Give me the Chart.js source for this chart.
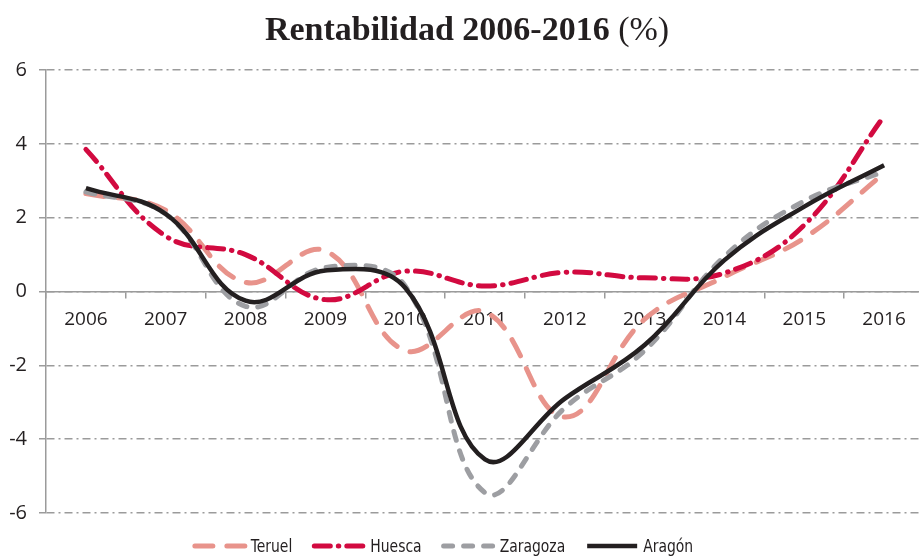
<!DOCTYPE html>
<html>
<head>
<meta charset="utf-8">
<script src="https://cdn.jsdelivr.net/npm/chart.js@4.4.1/dist/chart.umd.min.js"></script>
<style>
  html, body { margin: 0; padding: 0; background: #fff; overflow: hidden; }
  #caja { position: relative; width: 924px; height: 556px; }
  #titulo {
    position: absolute; left: 0; top: 10px; width: 934px; text-align: center;
    font-family: "Liberation Serif", "DejaVu Serif", serif; font-size: 34px; color: #231f20;
  }
  #titulo b { font-weight: bold; }
</style>
</head>
<body>
<div id="caja">
  <div id="titulo"><b>Rentabilidad 2006-2016</b> (%)</div>
  <canvas id="grafico" width="924" height="556"></canvas>
</div>
<script>
// datos
const anios = ['2006', '2007', '2008', '2009', '2010', '2011', '2012', '2013', '2014', '2015', '2016'];
const teruel = [2.65, 2.2, 0.25, 1.1, -1.6, -0.55, -3.4, -0.75, 0.4, 1.45, 3.2];
const huesca = [3.85, 1.5, 1.0, -0.22, 0.55, 0.15, 0.52, 0.37, 0.5, 1.8, 4.75];
const zaragoza = [2.7, 2.1, -0.4, 0.65, 0.15, -5.45, -3.15, -1.6, 0.95, 2.45, 3.25];
const aragon = [2.8, 2.1, -0.25, 0.57, 0.1, -4.55, -2.9, -1.45, 0.85, 2.3, 3.42];
const ejeY = [-6, -4, -2, 0, 2, 4, 6];

const gris = '#9b9b9b';
const tinta = '#231f20';

// leyenda dibujada a mano abajo (muestras con el mismo trazo que las lineas)
const leyendaAbajo = {
    id: 'leyendaAbajo',
    afterDraw(chart) {
        const ctx = chart.ctx;
        const muestra = 54, hueco = 4, sep = 20, estrecho = 0.86;
        ctx.save();
        ctx.font = '18px "DejaVu Sans Condensed", "DejaVu Sans", sans-serif';
        ctx.textBaseline = 'middle';
        const items = chart.data.datasets.map(d => ({ d, w: ctx.measureText(d.label).width * estrecho }));
        let total = 0;
        items.forEach((it, i) => { total += muestra + hueco + it.w + (i < items.length - 1 ? sep : 0); });
        let x = 443 - total / 2;
        const y = 546;
        items.forEach(it => {
            const d = it.d;
            ctx.beginPath();
            ctx.setLineDash(d.borderDash || []);
            ctx.lineCap = d.borderCapStyle || 'butt';
            ctx.lineWidth = d.borderWidth;
            ctx.strokeStyle = d.borderColor;
            ctx.moveTo(x + 2, y);
            ctx.lineTo(x + muestra - 2, y);
            ctx.stroke();
            ctx.setLineDash([]);
            ctx.fillStyle = tinta;
            // texto un poco estrecho como en el original
            ctx.save();
            ctx.translate(x + muestra + hueco, y + 1);
            ctx.scale(estrecho, 1);
            ctx.fillText(d.label, 0, 0);
            ctx.restore();
            x += muestra + hueco + it.w + sep;
        });
        ctx.restore();
    }
};

const ctx = document.getElementById('grafico').getContext('2d');
new Chart(ctx, {
    type: 'line',
    data: {
        labels: anios,
        datasets: [{
            label: 'Teruel',
            data: teruel,
            borderColor: '#e8938b',
            borderWidth: 5,
            borderDash: [18, 14],
            borderCapStyle: 'round',
            order: 3
        }, {
            label: 'Huesca',
            data: huesca,
            borderColor: '#d20a40',
            borderWidth: 5,
            borderDash: [16, 8, 0.5, 8],
            borderCapStyle: 'round',
            order: 2
        }, {
            label: 'Zaragoza',
            data: zaragoza,
            borderColor: '#9d9ea2',
            borderWidth: 5,
            borderDash: [9, 11],
            borderCapStyle: 'round',
            order: 1
        }, {
            label: 'Aragón',
            data: aragon,
            borderColor: tinta,
            borderWidth: 4.5,
            order: 0
        }]
    },
    options: {
        responsive: false,
        animation: false,
        layout: { padding: { top: 70, bottom: 43, left: 0, right: 0 } },
        elements: {
            line: { tension: 0.4, fill: false },
            point: { radius: 0, hoverRadius: 0 }
        },
        plugins: {
            legend: { display: false },
            title: { display: false },
            tooltip: { enabled: false }
        },
        scales: {
            x: {
                position: { y: 0 },
                offset: true,
                grid: { display: true, drawOnChartArea: false, drawTicks: true, tickLength: 6, offset: true, color: gris, lineWidth: 1.5 },
                border: { display: true, color: gris, width: 1.5 },
                ticks: { color: tinta, padding: 11, maxRotation: 0, font: { family: '"Open Sans", sans-serif', size: 19 } }
            },
            y: {
                min: -6,
                max: 6,
                afterBuildTicks: (scale) => { scale.ticks = ejeY.map(v => ({ value: v })); },
                afterFit: (scale) => { scale.width = 46; },
                grid: { color: gris, lineWidth: 1.5, tickLength: 7, tickBorderDash: [], tickColor: gris },
                border: { display: true, color: gris, width: 1.5, dash: [8, 4, 2, 4] },
                ticks: { color: tinta, padding: 12, font: { family: '"Open Sans", sans-serif', size: 20 } }
            }
        }
    },
    plugins: [leyendaAbajo]
});
</script>
</body>
</html>
